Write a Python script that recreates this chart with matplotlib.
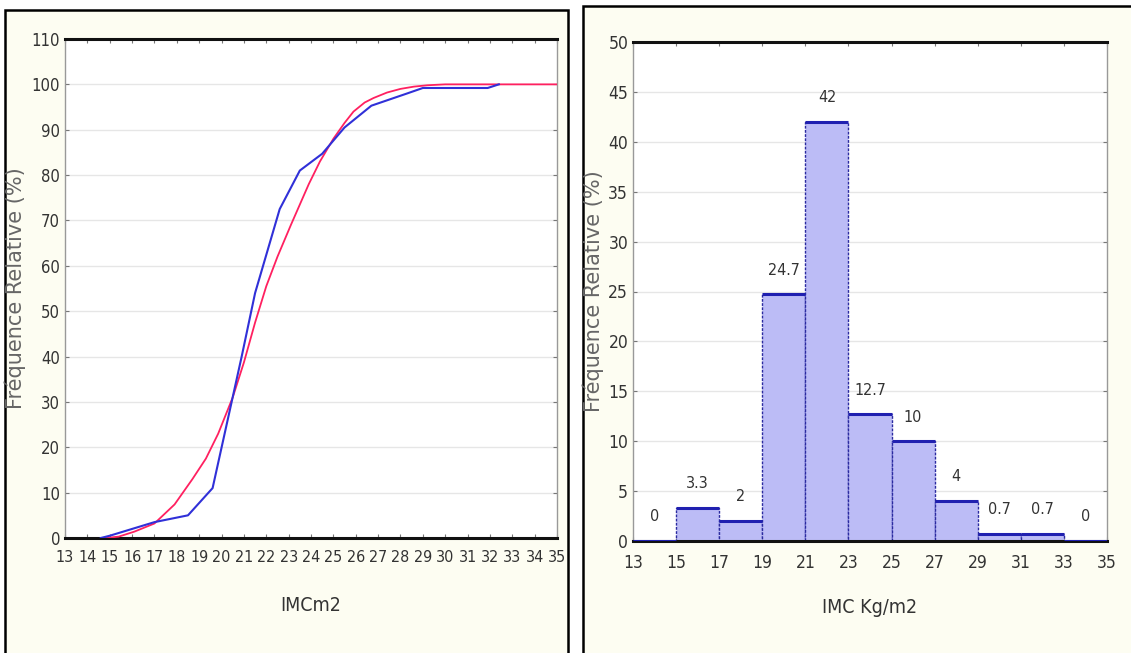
import numpy as np
import matplotlib
matplotlib.use("Agg")
from matplotlib import pyplot as plt
from matplotlib.patches import Rectangle

# cumulative curves (left panel)
x_obs = [14.6, 15.0, 16.0, 17.0, 18.5, 19.6, 20.9, 21.5, 22.6, 23.5, 24.5, 25.5, 26.7, 28.3, 29.0, 31.9, 32.4]
y_obs = [0.0, 0.5, 2.0, 3.5, 5.0, 11.0, 40.0, 54.0, 72.5, 81.0, 84.7, 90.5, 95.3, 98.0, 99.2, 99.2, 100.0]

x_fit = [14.8, 15.4, 16.1, 17.0, 17.9, 18.7, 19.3, 19.85, 20.5, 21.0, 21.5, 22.0, 22.5, 23.1, 23.9,
         24.4, 25.0, 25.5, 25.9, 26.4, 26.8, 27.4, 28.0, 28.6, 29.2, 30.0, 32.0, 35.0]
y_fit = [0.0, 0.3, 1.4, 3.2, 7.4, 13.0, 17.5, 23.0, 31.0, 38.7, 47.5, 55.5, 62.0, 69.0, 78.0,
         83.0, 88.0, 91.5, 94.0, 96.0, 97.0, 98.2, 99.0, 99.5, 99.8, 100.0, 100.0, 100.0]

# histogram (right panel)
bin_left = [13, 15, 17, 19, 21, 23, 25, 27, 29, 31, 33]
freq = [0, 3.3, 2, 24.7, 42, 12.7, 10, 4, 0.7, 0.7, 0]
freq_labels = ["0", "3.3", "2", "24.7", "42", "12.7", "10", "4", "0.7", "0.7", "0"]

plt.rcParams['font.family'] = ['DejaVu Sans']
plt.rcParams['font.stretch'] = 'condensed'

fig = plt.figure(figsize=(11.31, 6.53), dpi=100)
W, H = 1131.0, 653.0

# panel frames
for (x0, y0, x1) in [(5, 10, 568), (583, 6, 1140)]:
    fig.patches.append(Rectangle((x0 / W, -0.02), (x1 - x0) / W, 1 - y0 / H + 0.02,
                                 transform=fig.transFigure, facecolor='#fdfdf2',
                                 edgecolor='black', linewidth=1.8, zorder=-10))

def style_axes(ax):
    ax.set_facecolor('white')
    for s in ['top', 'bottom']:
        ax.spines[s].set_color('#111111')
        ax.spines[s].set_linewidth(2.2)
    for s in ['left', 'right']:
        ax.spines[s].set_color('#999999')
        ax.spines[s].set_linewidth(1)
    ax.yaxis.grid(True, color='#e6e6e6', linewidth=1)
    ax.set_axisbelow(True)
    ax.tick_params(axis='both', labelsize=12.5, labelcolor='#333333', color='#777777',
                   length=3, direction='in', top=True, right=True)
    ax.tick_params(axis='x', pad=9)

# left panel
ax1 = fig.add_axes([65 / W, 1 - 538 / H, (557 - 65) / W, (538 - 39) / H])
style_axes(ax1)
ax1.plot(x_fit, y_fit, color='#ff2060', linewidth=1.3, zorder=3)
ax1.plot(x_obs, y_obs, color='#3030d8', linewidth=1.5, zorder=3)
ax1.set_xlim(13, 35)
ax1.set_ylim(0, 110)
ax1.set_xticks(range(13, 36))
ax1.set_yticks(range(0, 111, 10))
ax1.tick_params(axis='x', labelsize=11.5)
ax1.tick_params(axis='y', labelsize=12)
ax1.set_xlabel("IMCm2", fontsize=14, color='#333333')
ax1.xaxis.set_label_coords(0.5, -0.116)
ax1.set_ylabel("Fréquence Relative (%)", fontsize=15, color='#666666', fontstretch='normal')
ax1.yaxis.set_label_coords(-0.079, 0.5)

# right panel
ax2 = fig.add_axes([633 / W, 1 - 541 / H, (1107 - 633) / W, (541 - 42) / H])
style_axes(ax2)
ax2.bar(bin_left, freq, width=2, align='edge', color='#bcbcf6', edgecolor='#2a2aa0',
        linewidth=1, linestyle=(0, (2, 1)), zorder=2)
ax2.hlines(freq, bin_left, [b + 2 for b in bin_left], color='#2020b0', linewidth=2.2, zorder=3)
for b, v, t in zip(bin_left, freq, freq_labels):
    ax2.annotate(t, (b + 1, v), xytext=(0, 12), textcoords='offset points',
                 ha='center', va='bottom', fontsize=11.5, color='#333333')
ax2.set_xlim(13, 35)
ax2.set_ylim(0, 50)
ax2.set_xticks(range(13, 36, 2))
ax2.set_yticks(range(0, 51, 5))
ax2.set_xlabel("IMC Kg/m2", fontsize=14, color='#333333')
ax2.xaxis.set_label_coords(0.5, -0.114)
ax2.set_ylabel("Fréquence Relative (%)", fontsize=15, color='#666666', fontstretch='normal')
ax2.yaxis.set_label_coords(-0.061, 0.5)

fig.savefig("out.png", dpi=100)
